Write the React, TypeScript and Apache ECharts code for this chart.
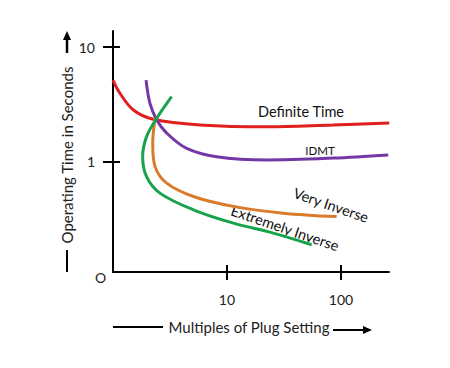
import React, { useEffect, useRef } from "react";
import * as echarts from "echarts";

const definiteTime: [number, number][] = [[1, 5.16], [1.15, 3.96], [1.51, 2.83], [2.26, 2.35], [5.8, 2.1], [22.5, 2.02], [85, 2.1], [265, 2.18]];
const idmt: [number, number][] = [[1.95, 5.16], [2.11, 3.24], [2.42, 2.32], [2.96, 1.78], [4.43, 1.31], [8.1, 1.11], [22.3, 1.04], [85.7, 1.08], [260, 1.15]];
const veryInverse: [number, number][] = [[2.34, 2.4], [2.23, 1.45], [2.34, 0.91], [2.96, 0.653], [5.07, 0.5], [11.4, 0.41], [31.2, 0.358], [91.6, 0.334]];
const extremelyInverse: [number, number][] = [[3.27, 3.7], [2.42, 2.4], [1.97, 1.66], [1.82, 1.11], [1.97, 0.745], [2.58, 0.535], [5.07, 0.383], [11.4, 0.293], [25.5, 0.24], [55.3, 0.19]];
const xTicks = [10, 100];
const yTicks = [1, 10];

const FONT = "Lato";

export default function App() {
  const ref = useRef<HTMLDivElement>(null);
  useEffect(() => {
    const chart = echarts.init(ref.current!, null, { renderer: "svg" });
    const axisCommon = {
      type: "log" as const,
      logBase: 10,
      splitLine: { show: false },
      minorTick: { show: false },
    };
    chart.setOption({
      animation: false,
      backgroundColor: "#fff",
      grid: { left: 113, top: 31, right: 61, bottom: 96 },
      xAxis: [
        {
          ...axisCommon,
          min: 1,
          max: 264,
          axisLine: { show: true, lineStyle: { color: "#000", width: 2 } },
          axisTick: { show: true, customValues: xTicks, length: 8, lineStyle: { color: "#000", width: 2 } },
          axisLabel: { show: true, customValues: xTicks, margin: 20, color: "#222", fontSize: 14, fontFamily: FONT },
        },
        {
          ...axisCommon,
          position: "bottom",
          min: 1,
          max: 264,
          axisLine: { show: false },
          axisTick: { show: true, inside: true, customValues: xTicks, length: 7, lineStyle: { color: "#000", width: 2 } },
          axisLabel: { show: false },
        },
      ],
      yAxis: [
        {
          ...axisCommon,
          min: 0.11,
          max: 13.8,
          axisLine: { show: true, lineStyle: { color: "#000", width: 2 } },
          axisTick: { show: true, customValues: yTicks, length: 10, lineStyle: { color: "#000", width: 2 } },
          axisLabel: { show: true, customValues: yTicks, margin: 18, color: "#222", fontSize: 14, fontFamily: FONT },
        },
        {
          ...axisCommon,
          position: "left",
          min: 0.11,
          max: 13.8,
          axisLine: { show: false },
          axisTick: { show: true, inside: true, customValues: yTicks, length: 7, lineStyle: { color: "#000", width: 2 } },
          axisLabel: { show: false },
        },
      ],
      series: [
        { name: "Definite Time", data: definiteTime, color: "#e01f1f" },
        { name: "IDMT", data: idmt, color: "#7437a6" },
        { name: "Very Inverse", data: veryInverse, color: "#d97b2a" },
        { name: "Extremely Inverse", data: extremelyInverse, color: "#17a34a" },
      ].map((s) => ({
        type: "line",
        name: s.name,
        data: s.data,
        smooth: 0.35,
        showSymbol: false,
        symbol: "none",
        lineStyle: { color: s.color, width: 3 },
        itemStyle: { color: s.color },
      })),
      graphic: [
        { type: "text", left: 95, top: 270, style: { text: "O", font: `14px ${FONT}`, fill: "#222" } },
        { type: "text", x: 301, y: 111, style: { text: "Definite Time", font: `14.5px ${FONT}`, fill: "#111", align: "center", verticalAlign: "middle" } },
        { type: "text", x: 320, y: 150, style: { text: "IDMT", font: `11.5px ${FONT}`, fill: "#111", align: "center", verticalAlign: "middle" } },
        { type: "text", x: 331, y: 205, rotation: -0.33, style: { text: "Very Inverse", font: `14.5px ${FONT}`, fill: "#111", align: "center", verticalAlign: "middle" } },
        { type: "text", x: 285, y: 228, rotation: -0.33, style: { text: "Extremely Inverse", font: `14.5px ${FONT}`, fill: "#111", align: "center", verticalAlign: "middle" } },
        { type: "text", x: 67, y: 155, rotation: Math.PI / 2, style: { text: "Operating Time in Seconds", font: `15px ${FONT}`, fill: "#222", align: "center", verticalAlign: "middle" } },
        { type: "line", shape: { x1: 67, y1: 250, x2: 67, y2: 272 }, style: { stroke: "#000", lineWidth: 2 } },
        { type: "line", shape: { x1: 67, y1: 38, x2: 67, y2: 53 }, style: { stroke: "#000", lineWidth: 2.5 } },
        { type: "polygon", shape: { points: [[63, 40], [71, 40], [67, 31]] }, style: { fill: "#000" } },
        { type: "text", x: 249, y: 327, style: { text: "Multiples of Plug Setting", font: `15px ${FONT}`, fill: "#222", align: "center", verticalAlign: "middle" } },
        { type: "line", shape: { x1: 113, y1: 327, x2: 163, y2: 327 }, style: { stroke: "#000", lineWidth: 2 } },
        { type: "line", shape: { x1: 333, y1: 330, x2: 365, y2: 330 }, style: { stroke: "#000", lineWidth: 2 } },
        { type: "polygon", shape: { points: [[363, 326], [363, 334], [372, 330]] }, style: { fill: "#000" } },
      ],
    });
    return () => chart.dispose();
  }, []);
  return <div ref={ref} style={{ position: "absolute", left: 0, top: 0, width: 450, height: 368 }} />;
}
